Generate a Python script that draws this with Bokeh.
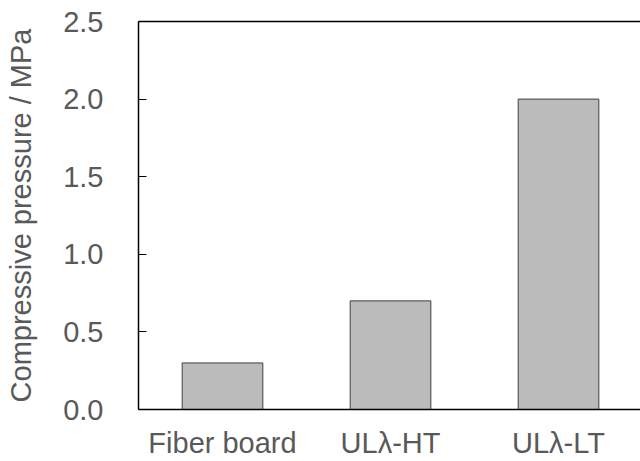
from bokeh.plotting import figure
from bokeh.models import Range1d, FixedTicker, LinearAxis, ColumnDataSource
from bokeh.embed import file_html
from bokeh.resources import INLINE

categories = ["Fiber board", "ULλ-HT", "ULλ-LT"]
pressure = [0.3, 0.7, 2.0]
y_ticks = [0.0, 0.5, 1.0, 1.5, 2.0, 2.5]

xs = list(range(len(categories)))
src = ColumnDataSource(dict(x=xs, top=pressure))

p = figure(width=640, height=461, output_backend="svg", toolbar_location=None,
           x_range=Range1d(-0.5, 2.488), y_range=Range1d(0, 2.5),
           min_border_left=138, min_border_right=0, min_border_top=21, min_border_bottom=51)
p.outline_line_color = None
p.grid.visible = False
p.background_fill_color = "white"
p.border_fill_color = "white"

p.vbar(x="x", top="top", width=0.48, source=src, fill_color="#BBBBBB",
       line_color="#404040", line_width=1)

font = "Liberation Sans"
grey = "#595959"

xa = p.xaxis[0]
xa.ticker = FixedTicker(ticks=xs)
xa.major_label_overrides = {i: c for i, c in zip(xs, categories)}
xa.major_tick_in = 0
xa.major_tick_out = 0
xa.minor_tick_line_color = None
xa.axis_line_color = "black"
xa.axis_line_width = 1.5
xa.major_label_text_font = font
xa.major_label_text_font_size = "29px"
xa.major_label_text_color = grey
xa.major_label_standoff = 17

ya = p.yaxis[0]
ya.ticker = FixedTicker(ticks=y_ticks)
ya.major_label_overrides = {t: f"{t:.1f}" for t in y_ticks}
ya.major_tick_in = 8
ya.major_tick_out = 0
ya.major_tick_line_color = "black"
ya.minor_tick_line_color = None
ya.axis_line_color = "black"
ya.axis_line_width = 1.5
ya.major_label_text_font = font
ya.major_label_text_font_size = "29px"
ya.major_label_text_color = grey
ya.major_label_standoff = 35
ya.axis_label = "Compressive pressure / MPa"
ya.axis_label_text_font = font
ya.axis_label_text_font_size = "29px"
ya.axis_label_text_font_style = "normal"
ya.axis_label_text_color = grey
ya.axis_label_standoff = 23

top = LinearAxis(ticker=FixedTicker(ticks=[]), major_tick_in=0, major_tick_out=0,
                 minor_tick_in=0, minor_tick_out=0, major_label_text_font_size="0px",
                 axis_line_color="black", axis_line_width=1.5)
p.add_layout(top, "above")

open("out.html", "w").write(file_html(p, INLINE))
